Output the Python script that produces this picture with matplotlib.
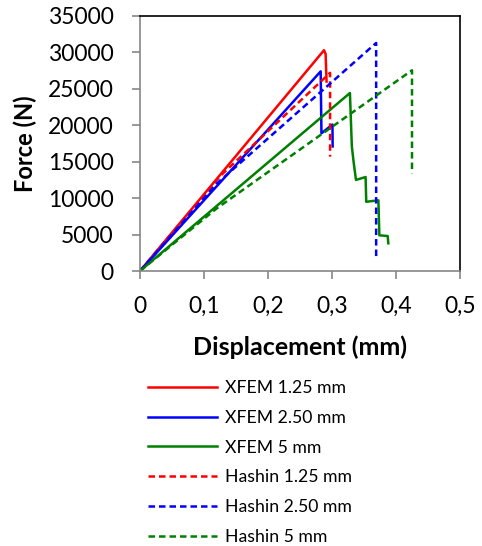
import matplotlib
matplotlib.use('Agg')
from matplotlib import pyplot as plt

plt.rcParams['font.family'] = ['Lato', 'DejaVu Sans']

# displacement (mm) / force (N) curves
xfem_125_x = [0.0, 0.2875, 0.290, 0.2915]
xfem_125_y = [0.0, 30300, 29800, 26000]
xfem_250_x = [0.0, 0.2823, 0.2835, 0.3007, 0.3010]
xfem_250_y = [0.0, 27400, 18900, 20100, 17100]
xfem_5_x = [0.0, 0.328, 0.331, 0.334, 0.3375, 0.3525, 0.3535, 0.3725, 0.3740, 0.3870, 0.3880]
xfem_5_y = [0.0, 24430, 17100, 14800, 12500, 12900, 9500, 9700, 4900, 4800, 3800]
hashin_125_x = [0.0, 0.125, 0.297, 0.297]
hashin_125_y = [0.0, 13000, 27200, 15700]
hashin_250_x = [0.0, 0.120, 0.369, 0.369]
hashin_250_y = [0.0, 12000, 31300, 1700]
hashin_5_x = [0.0, 0.120, 0.425, 0.425]
hashin_5_y = [0.0, 8600, 27550, 13400]

x_ticks = [0.0, 0.1, 0.2, 0.3, 0.4, 0.5]
y_ticks = list(range(0, 35001, 5000))

fig = plt.figure(figsize=(4.82, 5.46), dpi=100)
ax = fig.add_axes([140 / 482, 1 - 271 / 546, 320 / 482, 255 / 546])

lw = 1.8
dash = (2.6, 1.6)
ax.plot(xfem_125_x, xfem_125_y, color='#ff0000', lw=lw, label='XFEM 1.25 mm')
ax.plot(xfem_250_x, xfem_250_y, color='#0000ff', lw=lw, label='XFEM 2.50 mm')
ax.plot(xfem_5_x, xfem_5_y, color='#008000', lw=lw, label='XFEM 5 mm')
ax.plot(hashin_125_x, hashin_125_y, color='#ff0000', lw=lw, dashes=dash, label='Hashin 1.25 mm')
ax.plot(hashin_250_x, hashin_250_y, color='#0000ff', lw=lw, dashes=dash, label='Hashin 2.50 mm')
ax.plot(hashin_5_x, hashin_5_y, color='#008000', lw=lw, dashes=dash, label='Hashin 5 mm')

ax.set_xlim(0, 0.5)
ax.set_ylim(0, 35000)
ax.set_xticks(x_ticks)
ax.set_xticklabels([f'{v:g}'.replace('.', ',') for v in x_ticks])
ax.set_yticks(y_ticks)
ax.set_yticklabels([str(v) for v in y_ticks])

for side in ('left', 'bottom'):
    ax.spines[side].set_color('#868686')
    ax.spines[side].set_linewidth(1.2)
for side in ('top', 'right'):
    ax.spines[side].set_color('black')
    ax.spines[side].set_linewidth(1.2)
ax.tick_params(axis='both', direction='out', length=6, width=1.2, color='#868686',
               labelsize=16.5, pad=12)
ax.tick_params(axis='y', pad=13)

ax.set_xlabel('Displacement (mm)', fontsize=18, fontweight='bold', labelpad=13)
ax.set_ylabel('Force (N)', fontsize=17, fontweight='bold', labelpad=8)

fig.legend(loc='upper left', bbox_to_anchor=(148 / 482, 1 - 380 / 546), frameon=False,
           fontsize=12.7, handlelength=3.9, handletextpad=0.45, labelspacing=0.78,
           borderaxespad=0, borderpad=0)

fig.savefig('out.png', dpi=100)
